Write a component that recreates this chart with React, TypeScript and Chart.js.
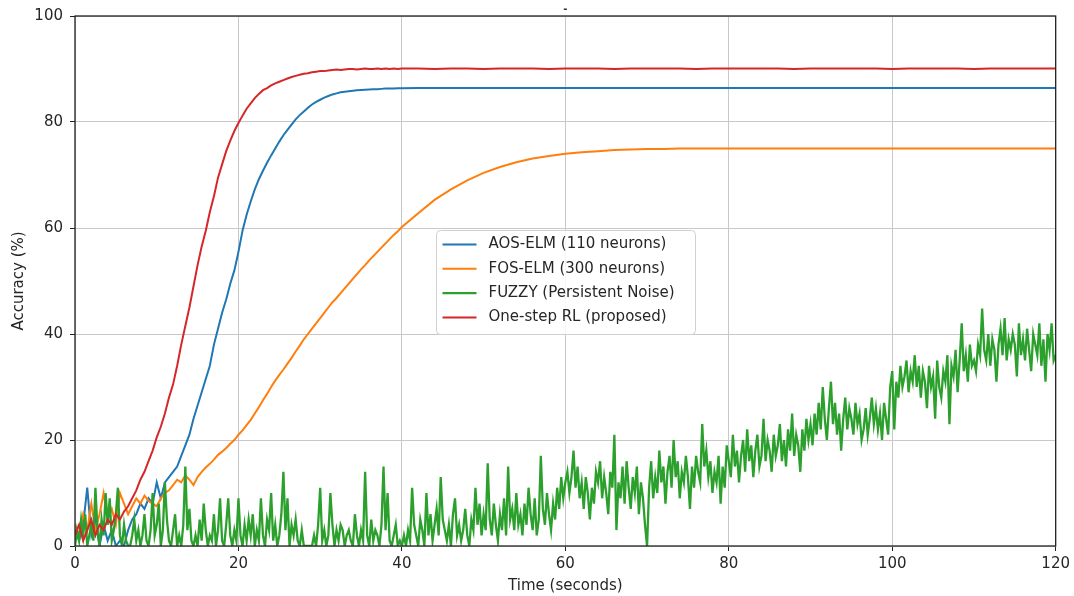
import React, { useEffect, useRef } from 'react';
import { Chart, registerables } from 'chart.js';

Chart.register(...registerables);

// Time samples (seconds) shared by the three learning curves
const curveTimes = [
  0, 0.5, 1, 1.5, 2, 2.5, 3, 3.5, 4, 4.5,
  5, 5.5, 6, 6.5, 7, 7.5, 8, 8.5, 9, 9.5,
  10, 10.5, 11, 11.5, 12, 12.5, 13, 13.5, 14, 14.5,
  15, 15.5, 16, 16.5, 17, 17.5, 18, 18.5, 19, 19.5,
  20, 20.5, 21, 21.5, 22, 22.5, 23, 23.5, 24, 24.5,
  25, 25.5, 26, 26.5, 27, 27.5, 28, 28.5, 29, 29.5,
  30, 30.5, 31, 31.5, 32, 32.5, 33, 33.5, 34, 34.5,
  35, 35.5, 36, 36.5, 37, 37.5, 38, 38.5, 39, 39.5,
  40,
  42, 44, 46, 48, 50, 52, 54, 56, 58, 60,
  62, 64, 66, 68, 70, 72, 74, 76, 78, 80,
  82, 84, 86, 88, 90, 92, 94, 96, 98, 100,
  102, 104, 106, 108, 110, 112, 114, 116, 118, 120,
];

// AOS-ELM (110 neurons) accuracy (%)
const aosElm = [
  3, 1, 4, 11, 2, 5, 0, 4, 1, 3,
  0, 1, 0, 3, 5, 6, 8, 7, 9, 8,
  12, 9, 12, 13, 14, 15, 17, 19, 21, 24,
  26.5, 29, 31.5, 34, 38, 41, 44, 46.5, 49.5, 52,
  55.5, 59.5, 62.5, 65, 67.3, 69.2, 70.8, 72.3, 73.7, 75,
  76.3, 77.5, 78.5, 79.5, 80.5, 81.3, 82, 82.7, 83.3, 83.8,
  84.2, 84.6, 84.9, 85.2, 85.4, 85.6, 85.7, 85.8, 85.9, 86.0,
  86.05, 86.1, 86.15, 86.2, 86.2, 86.25, 86.3, 86.3, 86.3, 86.35,
  86.35,
  86.4, 86.4, 86.4, 86.4, 86.4, 86.4, 86.4, 86.4, 86.4, 86.4,
  86.4, 86.4, 86.4, 86.4, 86.4, 86.4, 86.4, 86.4, 86.4, 86.4,
  86.4, 86.4, 86.4, 86.4, 86.4, 86.4, 86.4, 86.4, 86.4, 86.4,
  86.4, 86.4, 86.4, 86.4, 86.4, 86.4, 86.4, 86.4, 86.4, 86.4,
];

// FOS-ELM (300 neurons) accuracy (%)
const fosElm = [
  4, 2, 6, 3, 8, 3, 6, 10, 5, 7,
  4, 10, 8, 6, 7.5, 9, 8, 9.5, 8.5, 8,
  7.5, 9, 10, 10.5, 11.5, 12.5, 12, 13.3, 12.5, 11.5,
  13, 14, 14.8, 15.5, 16.3, 17.2, 17.8, 18.5, 19.3, 20,
  21, 21.8, 22.8, 23.8, 25, 26.2, 27.5, 28.7, 30, 31.2,
  32.3, 33.3, 34.4, 35.5, 36.7, 37.8, 39, 40, 41, 42,
  43, 44, 45, 46, 46.8, 47.7, 48.6, 49.5, 50.4, 51.3,
  52.2, 53, 53.9, 54.7, 55.5, 56.3, 57.1, 57.9, 58.7, 59.4,
  60.2,
  62.8, 65.3, 67.3, 69, 70.4, 71.5, 72.4, 73.1, 73.6, 74,
  74.3, 74.5, 74.7, 74.8, 74.9, 74.9, 75, 75, 75, 75,
  75, 75, 75, 75, 75, 75, 75, 75, 75, 75,
  75, 75, 75, 75, 75, 75, 75, 75, 75, 75,
];

// One-step RL (proposed) accuracy (%)
const oneStepRl = [
  2, 4, 1, 3, 5, 2, 4, 3, 5, 4,
  6, 5, 6.5, 7.5, 9, 10.5, 12.5, 14, 16, 18,
  20.5, 22.5, 25, 28, 30.5, 34, 38, 41.5, 45, 49,
  53, 56.5, 59.5, 63, 66, 69.5, 72, 74.5, 76.5, 78.3,
  79.8, 81.2, 82.5, 83.5, 84.5, 85.3, 86, 86.4, 86.9, 87.3,
  87.6, 87.9, 88.2, 88.5, 88.7, 88.9, 89.1, 89.2, 89.4, 89.5,
  89.6, 89.6, 89.7, 89.8, 89.9, 89.8, 89.9, 90, 90, 89.9,
  90, 90.1, 90, 90, 90.1, 90, 90.1, 90, 90.1, 90,
  90.1,
  90.1, 90, 90.1, 90.1, 90, 90.1, 90.1, 90.1, 90, 90.1,
  90.1, 90.1, 90, 90.1, 90.1, 90.1, 90.1, 90, 90.1, 90.1,
  90.1, 90.1, 90.1, 90, 90.1, 90.1, 90.1, 90.1, 90.1, 90,
  90.1, 90.1, 90.1, 90.1, 90, 90.1, 90.1, 90.1, 90.1, 90.1,
];

// FUZZY (Persistent Noise): one value every 0.25 s from 0 to 120 s (20 values per 5 s row)
const fuzzySampleSeconds = 0.25;
const fuzzyNoise = [
  0, 3, 1, 5, 2, 6, 0, 2, 4, 1, 11, 3, 0, 5, 2, 10, 4, 9, 1, 3,
  6, 11, 2, 0, 4, 1, 0, 0, 2, 5, 1, 3, 0, 2, 6, 1, 0, 3, 10, 2,
  4, 8, 0, 3, 12, 5, 1, 0, 3, 6, 0, 2, 0, 4, 15, 3, 7, 1, 0, 2,
  0, 5, 1, 8, 3, 0, 2, 1, 6, 0, 3, 9, 1, 0, 4, 9, 2, 0, 3, 1,
  9, 2, 0, 4, 1, 5, 2, 6, 0, 3, 1, 9, 2, 0, 5, 3, 10, 1, 4, 0,
  2, 6, 14, 3, 9, 0, 4, 2, 5, 1, 0, 3, 0, 0, 0, 0, 0, 2, 0, 4,
  11, 1, 3, 0, 2, 10, 4, 0, 3, 1, 4, 3, 0, 2, 3, 1, 0, 6, 2, 0,
  3, 1, 14, 2, 0, 5, 1, 3, 2, 0, 4, 15, 3, 10, 1, 0, 2, 4, 0, 1,
  0, 2, 0, 3, 1, 11, 4, 2, 0, 5, 3, 0, 10, 2, 6, 1, 4, 7, 2, 13,
  5, 3, 1, 4, 0, 6, 9, 2, 4, 1, 3, 7, 2, 0, 5, 3, 11, 4, 8, 2,
  6, 3, 15.6, 5, 2, 8, 4, 1, 6, 3, 9, 2, 15, 5, 7, 3, 10, 4, 6, 2,
  8, 4, 11, 6, 3, 9, 2, 5, 17, 7, 4, 10, 6, 3, 8, 5, 11, 7, 13, 9,
  12, 14, 10, 13, 18, 11, 15, 9, 12, 7, 13, 10, 5, 11, 8, 14, 12, 16, 9, 13,
  10, 6, 14, 11, 21, 3, 12, 9, 15, 8, 16, 11, 7, 13, 10, 15, 6, 12, 9, 4,
  0, 11, 16, 9, 13, 10, 18, 12, 15, 8, 14, 17, 11, 20, 13, 16, 9, 14, 12, 17,
  13, 7, 15, 11, 17, 14, 12, 23, 15, 18, 13, 16, 10, 14, 12, 17, 8, 15, 11, 19,
  16, 13, 21, 15, 18, 12, 17, 20, 14, 22, 16, 19, 13, 18, 21, 15, 17, 24, 16, 20,
  18, 14, 21, 17, 19, 23, 16, 20, 15, 22, 18, 25, 17, 21, 19, 14, 22, 18, 24, 20,
  23, 19, 25, 21, 27, 22, 30, 24, 20, 26, 31, 23, 27, 21, 25, 18, 24, 28, 22, 26,
  24, 21, 27, 23, 25, 20, 22, 26, 21, 24, 28, 23, 26, 22, 25, 20, 27, 24, 21, 30,
  33, 22, 31, 28, 34, 30, 32, 35, 29, 33, 31, 36, 30, 34, 28, 33, 31, 26, 34, 30,
  32, 24, 35, 30, 28, 33, 31, 36, 23, 34, 32, 37, 29, 35, 42, 33, 36, 31, 38, 34,
  35, 33, 38, 36, 44.8, 37, 35, 40, 34, 39, 37, 31, 38, 41, 36, 43, 35, 39, 37, 40,
  38, 32, 42, 36, 39, 35, 41, 37, 33, 40, 38, 36, 42, 34, 39, 31, 40, 37, 42, 35,
  36,
];

const seriesLabels = [
  'AOS-ELM (110 neurons)',
  'FOS-ELM (300 neurons)',
  'FUZZY (Persistent Noise)',
  'One-step RL (proposed)',
];
const xTickValues = [0, 20, 40, 60, 80, 100, 120];
const yTickValues = [0, 20, 40, 60, 80, 100];

const FONT = '"DejaVu Sans", sans-serif';
const TEXT = '#262626';

const framePlugin = {
  id: 'frameAndLegend',
  afterDatasetsDraw(chart: any) {
    const { ctx, chartArea: a } = chart;
    ctx.save();
    // axes frame (all four spines)
    ctx.strokeStyle = '#222';
    ctx.lineWidth = 1.3;
    ctx.strokeRect(a.left, a.top, a.right - a.left, a.bottom - a.top);

    // legend box inside the plot
    const x0 = Math.round(a.left + (a.right - a.left) * 0.3686) + 0.5;
    const y0 = Math.round(a.top + (a.bottom - a.top) * 0.403) + 0.5;
    const w = 259;
    const h = 104;
    ctx.beginPath();
    ctx.roundRect(x0, y0, w, h, 4);
    ctx.fillStyle = 'rgba(255,255,255,0.85)';
    ctx.fill();
    ctx.strokeStyle = '#d0d0d0';
    ctx.lineWidth = 1;
    ctx.stroke();
    ctx.font = '15px ' + FONT;
    ctx.textBaseline = 'middle';
    ctx.textAlign = 'left';
    chart.data.datasets.forEach((ds: any, i: number) => {
      const y = y0 + 14 + i * 24.3;
      ctx.beginPath();
      ctx.moveTo(x0 + 6, y);
      ctx.lineTo(x0 + 40, y);
      ctx.strokeStyle = ds.borderColor;
      ctx.lineWidth = ds.borderWidth;
      ctx.stroke();
      ctx.fillStyle = TEXT;
      ctx.fillText(ds.label, x0 + 52, y);
    });
    ctx.restore();
  },
};

export default function App() {
  const canvasRef = useRef<HTMLCanvasElement | null>(null);

  useEffect(() => {
    if (!canvasRef.current) return;
    const pts = (xs: number[], ys: number[]) => ys.map((y, i) => ({ x: xs[i], y }));
    const fuzzyPts = fuzzyNoise.map((y, i) => ({ x: i * fuzzySampleSeconds, y }));

    const chart = new Chart(canvasRef.current, {
      type: 'line',
      data: {
        datasets: [
          { label: seriesLabels[0], data: pts(curveTimes, aosElm), borderColor: '#1f77b4', borderWidth: 2, pointRadius: 0, order: 4 },
          { label: seriesLabels[1], data: pts(curveTimes, fosElm), borderColor: '#ff7f0e', borderWidth: 2, pointRadius: 0, order: 3 },
          { label: seriesLabels[2], data: fuzzyPts, borderColor: '#2ca02c', borderWidth: 2.3, pointRadius: 0, order: 2 },
          { label: seriesLabels[3], data: pts(curveTimes, oneStepRl), borderColor: '#d62728', borderWidth: 2, pointRadius: 0, order: 1 },
        ],
      },
      options: {
        animation: false,
        responsive: true,
        maintainAspectRatio: false,
        devicePixelRatio: 1,
        layout: { padding: { left: 0, right: 17, top: 0, bottom: 0 } },
        plugins: {
          legend: { display: false },
          tooltip: { enabled: false },
          title: {
            display: true,
            text: '-',
            fullSize: false,
            color: '#333',
            font: { family: FONT, size: 10, weight: 'bold' },
            padding: { top: 2, bottom: 1 },
          },
        },
        scales: {
          x: {
            type: 'linear',
            min: 0,
            max: 120,
            afterBuildTicks: (s: any) => { s.ticks = xTickValues.map((v) => ({ value: v })); },
            afterFit: (s: any) => { s.height = 50; },
            ticks: { color: TEXT, font: { family: FONT, size: 15 }, padding: 4, maxRotation: 0, autoSkip: false },
            grid: { color: '#c8c8c8', lineWidth: 1, tickColor: '#222', tickLength: 5 },
            border: { display: false },
            title: { display: true, text: 'Time (seconds)', color: TEXT, font: { family: FONT, size: 15 }, padding: { top: 0, bottom: 1 } },
          },
          y: {
            type: 'linear',
            min: 0,
            max: 100,
            afterBuildTicks: (s: any) => { s.ticks = yTickValues.map((v) => ({ value: v })); },
            afterFit: (s: any) => { s.width = 75; },
            ticks: { color: TEXT, font: { family: FONT, size: 15 }, padding: 7 },
            grid: { color: '#c8c8c8', lineWidth: 1, tickColor: '#222', tickLength: 5 },
            border: { display: false },
            title: { display: true, text: 'Accuracy (%)', color: TEXT, font: { family: FONT, size: 15 }, padding: { top: 10, bottom: 0 } },
          },
        },
      },
      plugins: [framePlugin],
    } as any);
    return () => chart.destroy();
  }, []);

  return (
    <div style={{ position: 'absolute', left: 0, top: 0, width: 1074, height: 596, background: '#fff' }}>
      <canvas ref={canvasRef} />
    </div>
  );
}
